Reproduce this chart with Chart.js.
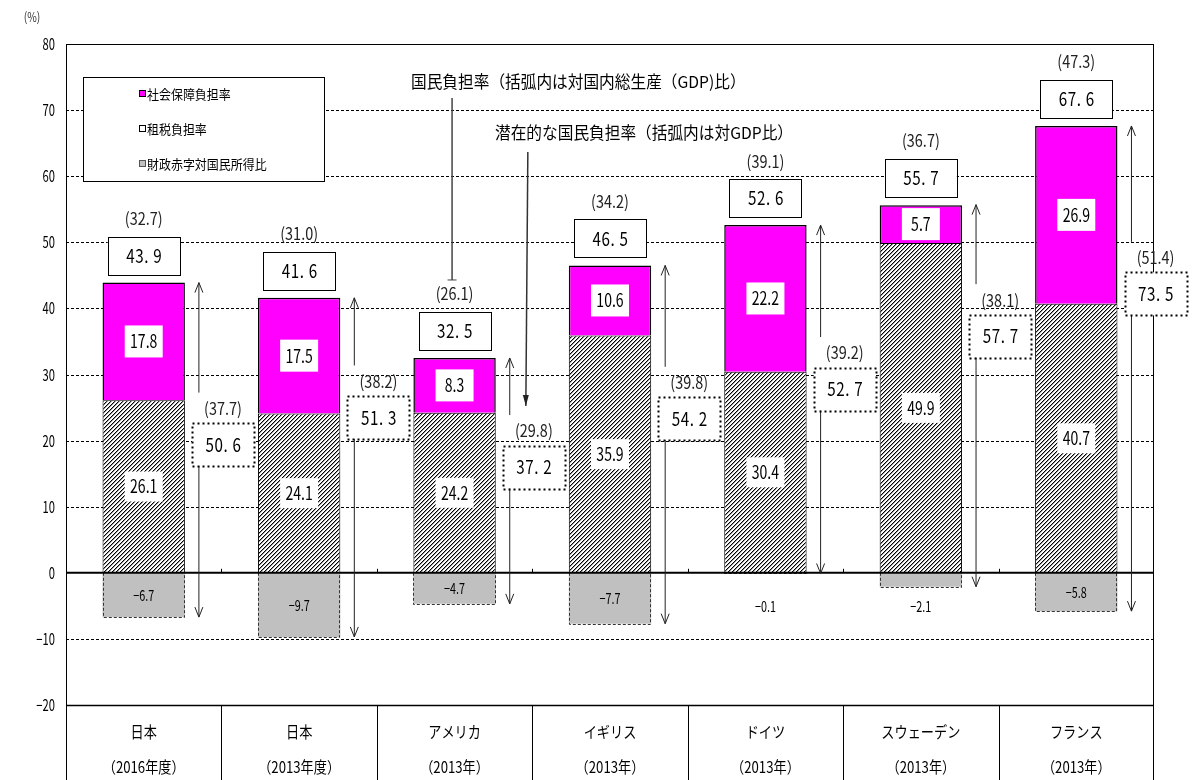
<!DOCTYPE html>
<html lang="ja">
<head>
<meta charset="utf-8">
<script src="https://cdn.jsdelivr.net/npm/chart.js@4.4.1/dist/chart.umd.min.js"></script>
<style>
  body { margin: 0; background: #fff; }
  canvas { display: block; }
</style>
</head>
<body>
<canvas id="burdenChart" width="1198" height="780"></canvas>
<script>
// 国民負担率の国際比較
const countries = ['日本', '日本', 'アメリカ', 'イギリス', 'ドイツ', 'スウェーデン', 'フランス'];
const periods = ['（2016年度）', '（2013年度）', '（2013年）', '（2013年）', '（2013年）', '（2013年）', '（2013年）'];

const taxBurden = [26.1, 24.1, 24.2, 35.9, 30.4, 49.9, 40.7];        // 租税負担率
const socialBurden = [17.8, 17.5, 8.3, 10.6, 22.2, 5.7, 26.9];       // 社会保障負担率
const deficitRatio = [-6.7, -9.7, -4.7, -7.7, -0.1, -2.1, -5.8];     // 財政赤字対国民所得比
const nationalBurden = [43.9, 41.6, 32.5, 46.5, 52.6, 55.7, 67.6];   // 国民負担率
const nationalBurdenGdp = [32.7, 31.0, 26.1, 34.2, 39.1, 36.7, 47.3];
const potentialBurden = [50.6, 51.3, 37.2, 54.2, 52.7, 57.7, 73.5];  // 潜在的な国民負担率
const potentialBurdenGdp = [37.7, 38.2, 29.8, 39.8, 39.2, 38.1, 51.4];

const yMin = -20, yMax = 80, yStep = 10;

// where the dotted "potential" boxes sit, in axis units
const potentialBoxAt = [19.4, 23.5, 16.0, 23.3, 27.8, 35.8, 42.2];

const FONT = '"Noto Sans CJK JP", "Noto Sans", sans-serif';

// hatch fill for the tax segment
function makeHatch() {
    const c = document.createElement('canvas');
    c.width = c.height = 4;
    const g = c.getContext('2d');
    g.fillStyle = '#fff';
    g.fillRect(0, 0, 4, 4);
    for (let i = 0; i < 4; i++) {
        g.fillStyle = '#000';
        g.fillRect(i, 3 - i, 1, 1);
        g.fillStyle = '#9a9a9a';
        g.fillRect((i + 1) % 4, 3 - i, 1, 1);
    }
    return document.getElementById('burdenChart').getContext('2d').createPattern(c, 'repeat');
}

function text(ctx, str, x, y, size, opts = {}) {
    ctx.save();
    ctx.font = `${opts.weight || 'normal'} ${size}px ${FONT}`;
    ctx.fillStyle = opts.color || '#000';
    ctx.textAlign = opts.align || 'center';
    ctx.textBaseline = 'middle';
    ctx.translate(x, y);
    ctx.scale(opts.sx || 0.8, 1);
    ctx.fillText(str, 0, 0);
    ctx.restore();
}

// fixed-pitch digits, like "43. 9"
function monoText(ctx, str, x, y, size, pitch) {
    let cx = x - pitch * str.length / 2;
    for (const ch of str) {
        text(ctx, ch, cx + 0.5, y, size, { align: 'left', sx: 0.8 });
        cx += pitch;
    }
}

function box(ctx, cx, cy, w, h, dotted) {
    ctx.save();
    ctx.fillStyle = '#fff';
    ctx.fillRect(cx - w / 2, cy - h / 2, w, h);
    ctx.strokeStyle = '#000';
    if (dotted) {
        ctx.lineWidth = 2;
        ctx.setLineDash([2, 3]);
    } else {
        ctx.lineWidth = 1;
    }
    ctx.strokeRect(Math.round(cx - w / 2) + 0.5, Math.round(cy - h / 2) + 0.5, w, h);
    ctx.restore();
}

function line(ctx, x1, y1, x2, y2, width = 1, dash = [], color = '#000') {
    ctx.save();
    ctx.strokeStyle = color;
    ctx.lineWidth = width;
    ctx.setLineDash(dash);
    ctx.beginPath();
    ctx.moveTo(x1, y1);
    ctx.lineTo(x2, y2);
    ctx.stroke();
    ctx.restore();
}

function arrow(ctx, x, yFrom, yTo) {
    const dir = yTo < yFrom ? 1 : -1;
    ctx.save();
    ctx.strokeStyle = '#222';
    ctx.lineWidth = 1;
    ctx.beginPath();
    ctx.moveTo(x, yFrom);
    ctx.lineTo(x, yTo);
    ctx.moveTo(x - 4, yTo + dir * 10);
    ctx.lineTo(x, yTo);
    ctx.lineTo(x + 4, yTo + dir * 10);
    ctx.stroke();
    ctx.restore();
}

const backdrop = {
    id: 'backdrop',
    beforeDatasetsDraw(chart) {
        const { ctx, chartArea: a, scales: { y } } = chart;
        // dashed grid
        for (let v = yMin + yStep; v < yMax; v += yStep) {
            if (v === 0) continue;
            const py = Math.round(y.getPixelForValue(v)) + 0.5;
            line(ctx, a.left, py, a.right, py, 1, [3, 2]);
        }
        // legend
        ctx.save();
        ctx.fillStyle = '#fff';
        ctx.fillRect(83, 77, 241, 104);
        ctx.strokeStyle = '#000';
        ctx.strokeRect(83.5, 77.5, 241, 104);
        const items = [
            ['社会保障負担率', '#ff00ff', '#000'],
            ['租税負担率', '#fff', '#000'],
            ['財政赤字対国民所得比', '#c0c0c0', '#555']
        ];
        items.forEach(([label, fill, stroke], k) => {
            const ly = 94 + k * 35;
            ctx.fillStyle = fill;
            ctx.fillRect(139, ly - 4, 7, 7);
            ctx.strokeStyle = stroke;
            ctx.strokeRect(139.5, ly - 3.5, 6, 6);
            text(ctx, label, 147, ly, 13, { align: 'left', sx: 0.92 });
        });
        ctx.restore();
    },
    afterDatasetsDraw(chart) {
        const { ctx, chartArea: a, scales: { x, y } } = chart;
        const y0 = y.getPixelForValue(0);
        const catW = x.getPixelForValue(1) - x.getPixelForValue(0);

        // dashed outline of the deficit bars
        chart.getDatasetMeta(2).data.forEach(bar => {
            const l = Math.round(bar.x - bar.width / 2) + 0.5;
            const r = Math.round(bar.x + bar.width / 2) - 0.5;
            const b = Math.round(bar.y) + 0.5;
            ctx.save();
            ctx.strokeStyle = '#333';
            ctx.setLineDash([3, 2]);
            ctx.beginPath();
            ctx.moveTo(l, y0);
            ctx.lineTo(l, b);
            ctx.lineTo(r, b);
            ctx.lineTo(r, y0);
            ctx.stroke();
            ctx.restore();
        });

        // frame, zero line and the label table
        line(ctx, a.left, y0, a.right, y0, 2);
        line(ctx, a.left, a.top + 0.5, a.right, a.top + 0.5);
        line(ctx, a.left, a.bottom + 0.5, a.right, a.bottom + 0.5, 1.5);
        line(ctx, a.left + 0.5, a.top, a.left + 0.5, chart.height);
        line(ctx, a.right - 0.5, a.top, a.right - 0.5, chart.height);
        for (let i = 0; i < countries.length - 1; i++) {
            const bx = Math.round(x.getPixelForValue(i) + catW / 2) + 0.5;
            line(ctx, bx, a.bottom, bx, chart.height);
            line(ctx, bx, y0 - 4, bx, y0);
        }
        countries.forEach((c, i) => {
            const cx = x.getPixelForValue(i);
            text(ctx, c, cx, 732, 15.5, { sx: 0.85 });
            text(ctx, periods[i], cx, 767, 15.5, { sx: 0.85 });
        });

        // y tick labels
        for (let v = yMin; v <= yMax; v += yStep) {
            text(ctx, String(v).replace('-', '−'), 55, y.getPixelForValue(v), 16, { align: 'right', sx: 0.7 });
        }
        text(ctx, '(%)', 32, 17, 13, { sx: 0.8, color: '#333' });

        countries.forEach((c, i) => {
            const cx = x.getPixelForValue(i);

            // segment values
            let py = y.getPixelForValue(taxBurden[i] / 2);
            ctx.fillStyle = '#fff';
            ctx.fillRect(cx - 19, py - 15, 38, 30);
            text(ctx, taxBurden[i].toFixed(1), cx, py, 18, { sx: 0.78 });

            py = y.getPixelForValue(taxBurden[i] + socialBurden[i] / 2);
            ctx.fillStyle = '#fff';
            ctx.fillRect(cx - 19, py - 16, 38, 32);
            text(ctx, socialBurden[i].toFixed(1), cx, py, 18, { sx: 0.78 });

            const d = deficitRatio[i];
            py = Math.abs(d) >= 3 ? y.getPixelForValue(d / 2) : y.getPixelForValue(-5);
            text(ctx, d.toFixed(1).replace('-', '−'), cx, py, 15, { sx: 0.72 });

            // 国民負担率 box and its GDP ratio
            const top = y.getPixelForValue(nationalBurden[i]);
            box(ctx, cx, top - 27, 72, 38, false);
            monoText(ctx, nationalBurden[i].toFixed(1), cx, top - 27, 19, 9);
            text(ctx, `(${nationalBurdenGdp[i].toFixed(1)})`, cx, top - 64, 17, { sx: 0.85, color: '#222' });

            // 潜在的な国民負担率: arrows span the burden plus the deficit
            const ax = cx + catW * 0.355;
            const bx = cx + catW * 0.51;
            const by = y.getPixelForValue(potentialBoxAt[i]);
            arrow(ctx, ax, by - 52, top);
            arrow(ctx, ax, by + 21, y.getPixelForValue(d));
            box(ctx, bx, by, 62, 43, true);
            monoText(ctx, potentialBurden[i].toFixed(1), bx, by, 19, 9);
            text(ctx, `(${potentialBurdenGdp[i].toFixed(1)})`, bx, by - 36, 17, { sx: 0.85, color: '#222' });
        });

        // callouts
        text(ctx, '国民負担率（括弧内は対国内総生産（GDP)比）', 411, 82, 16.5, { align: 'left', sx: 0.95 });
        text(ctx, '潜在的な国民負担率（括弧内は対GDP比）', 495, 133, 16.5, { align: 'left', sx: 0.95 });
        const us = x.getPixelForValue(2);
        const tEnd = y.getPixelForValue(nationalBurden[2]) - 78;
        line(ctx, us - 2.5, 98, us - 2.5, tEnd, 1.5, [], '#444');
        line(ctx, us - 7, tEnd, us + 2, tEnd, 1, [], '#444');
        const tipY = y.getPixelForValue(potentialBoxAt[2]) - 61;
        const tipX = us + catW * 0.51 - 8;
        line(ctx, tipX + 2, 152, tipX, tipY, 1.5, [], '#333');
        ctx.save();
        ctx.fillStyle = '#222';
        ctx.beginPath();
        ctx.moveTo(tipX, tipY);
        ctx.lineTo(tipX - 3, tipY - 11);
        ctx.lineTo(tipX + 3, tipY - 11);
        ctx.closePath();
        ctx.fill();
        ctx.restore();
    }
};

const hatch = makeHatch();

new Chart(document.getElementById('burdenChart'), {
    type: 'bar',
    data: {
        labels: countries.map((c, i) => [c, periods[i]]),
        datasets: [
            {
                label: '租税負担率',
                data: taxBurden,
                backgroundColor: hatch,
                borderColor: '#000',
                borderWidth: 1
            },
            {
                label: '社会保障負担率',
                data: socialBurden,
                backgroundColor: '#ff00ff',
                borderColor: '#000',
                borderWidth: 1.5
            },
            {
                label: '財政赤字対国民所得比',
                data: deficitRatio,
                backgroundColor: '#c0c0c0',
                borderWidth: 0
            }
        ]
    },
    options: {
        responsive: false,
        animation: false,
        events: [],
        devicePixelRatio: 1,
        layout: { padding: { left: 66, right: 44, top: 44, bottom: 75 } },
        datasets: { bar: { categoryPercentage: 1, barPercentage: 0.53 } },
        scales: {
            x: { stacked: true, display: false },
            y: { stacked: true, display: false, min: yMin, max: yMax, ticks: { stepSize: yStep } }
        },
        plugins: { legend: { display: false }, tooltip: { enabled: false } }
    },
    plugins: [backdrop]
});
</script>
</body>
</html>
